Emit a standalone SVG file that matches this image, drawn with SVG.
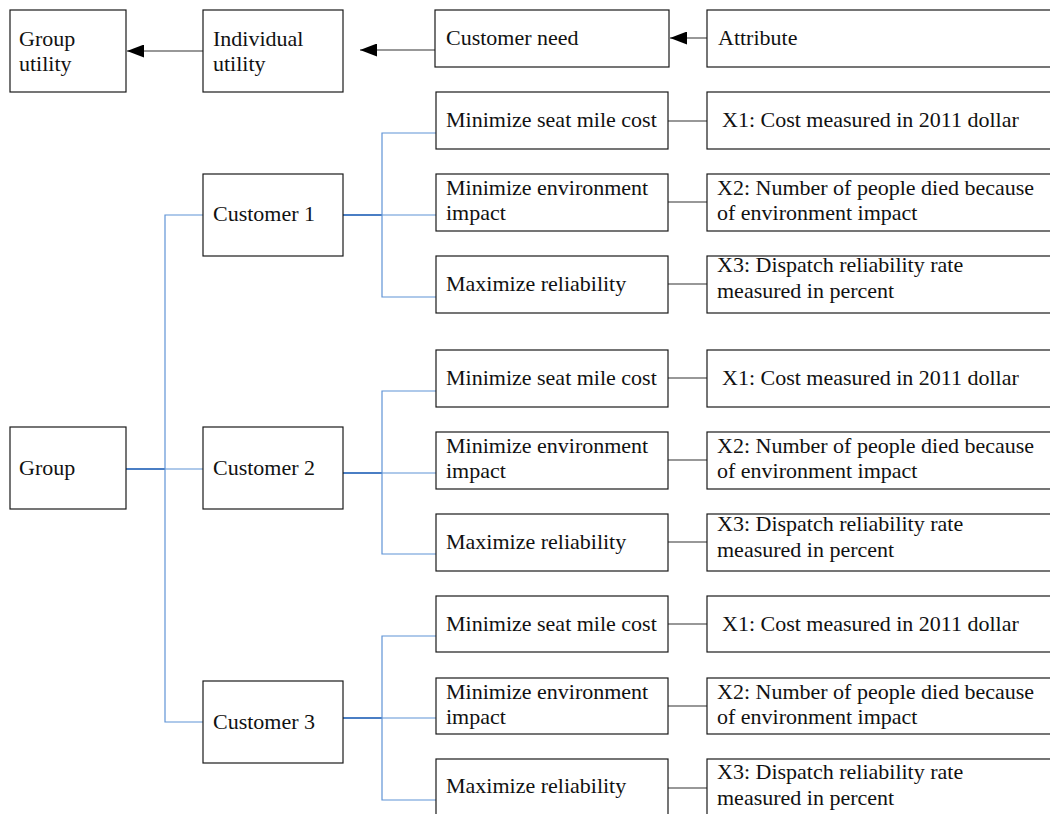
<svg xmlns="http://www.w3.org/2000/svg" width="1050" height="814" viewBox="0 0 1050 814">
<defs>
<style>
.box{fill:#fff;stroke:#1a1a1a;stroke-width:1.2}
.t{font-family:"Liberation Serif","Times New Roman",serif;font-size:22px;fill:#111}
.blk{stroke:#333;stroke-width:1.2;fill:none}
.bl{stroke:#5f93d6;stroke-width:1.2;fill:none}
.blt{stroke:#4a7ec4;stroke-width:2;fill:none}
</style>
<marker id="ah" viewBox="0 0 17 13" refX="17" refY="6.5" markerWidth="17" markerHeight="13" markerUnits="userSpaceOnUse" orient="auto">
<path d="M0,0 L17,6.5 L0,13 Z" fill="#000"/>
</marker>
</defs>
<rect width="1050" height="814" fill="#fff"/>
<g id="connectors">
<line class="blk" x1="203" y1="51" x2="127" y2="51" marker-end="url(#ah)"/>
<line class="blk" x1="435" y1="50" x2="360" y2="50" marker-end="url(#ah)"/>
<line class="blk" x1="707" y1="38" x2="670" y2="38" marker-end="url(#ah)"/>
<line class="blt" x1="126" y1="469" x2="165" y2="469"/>
<polyline class="bl" points="203,215 165,215 165,722 203,722"/>
<line class="bl" x1="165" y1="469" x2="203" y2="469"/>
<line class="blt" x1="343" y1="215" x2="382" y2="215"/>
<polyline class="bl" points="444,133 382,133 382,297 444,297"/>
<line class="bl" x1="382" y1="215" x2="444" y2="215"/>
<line class="blt" x1="343" y1="473" x2="382" y2="473"/>
<polyline class="bl" points="444,391 382,391 382,554 444,554"/>
<line class="bl" x1="382" y1="473" x2="444" y2="473"/>
<line class="blt" x1="343" y1="718" x2="382" y2="718"/>
<polyline class="bl" points="444,636 382,636 382,800 444,800"/>
<line class="bl" x1="382" y1="718" x2="444" y2="718"/>
<line class="blk" x1="668" y1="121" x2="707" y2="121"/>
<line class="blk" x1="668" y1="202" x2="707" y2="202"/>
<line class="blk" x1="668" y1="284" x2="707" y2="284"/>
<line class="blk" x1="668" y1="378" x2="707" y2="378"/>
<line class="blk" x1="668" y1="460" x2="707" y2="460"/>
<line class="blk" x1="668" y1="542" x2="707" y2="542"/>
<line class="blk" x1="668" y1="624" x2="707" y2="624"/>
<line class="blk" x1="668" y1="706" x2="707" y2="706"/>
<line class="blk" x1="668" y1="788" x2="707" y2="788"/>
</g>
<g id="group-utility"><rect class="box" x="10" y="10" width="116" height="82"/><text class="t" x="19" y="46">Group</text><text class="t" x="19" y="71">utility</text></g>
<g id="individual-utility"><rect class="box" x="203" y="10" width="140" height="82"/><text class="t" x="213" y="46">Individual</text><text class="t" x="213" y="71">utility</text></g>
<g id="customer-need"><rect class="box" x="435" y="10" width="234" height="57"/><text class="t" x="446" y="45">Customer need</text></g>
<g id="attribute"><rect class="box" x="707" y="10" width="350" height="57"/><text class="t" x="718" y="45">Attribute</text></g>
<g id="group"><rect class="box" x="10" y="427" width="116" height="82"/><text class="t" x="19" y="475">Group</text></g>
<g id="customer1"><rect class="box" x="203" y="174" width="140" height="82"/><text class="t" x="213" y="221">Customer 1</text></g>
<g id="customer2"><rect class="box" x="203" y="427" width="140" height="82"/><text class="t" x="213" y="475">Customer 2</text></g>
<g id="customer3"><rect class="box" x="203" y="681" width="140" height="82"/><text class="t" x="213" y="729">Customer 3</text></g>
<g id="c1-cost"><rect class="box" x="436" y="92" width="232" height="57"/><text class="t" x="446" y="127">Minimize seat mile cost</text></g>
<g id="c1-env"><rect class="box" x="436" y="174" width="232" height="57"/><text class="t" x="446" y="195">Minimize environment</text><text class="t" x="446" y="220">impact</text></g>
<g id="c1-rel"><rect class="box" x="436" y="256" width="232" height="57"/><text class="t" x="446" y="291">Maximize reliability</text></g>
<g id="c1-x1"><rect class="box" x="707" y="92" width="350" height="57"/><text class="t" x="722" y="127">X1: Cost measured in 2011 dollar</text></g>
<g id="c1-x2"><rect class="box" x="707" y="174" width="350" height="57"/><text class="t" x="717" y="195">X2: Number of people died because</text><text class="t" x="717" y="220">of environment impact</text></g>
<g id="c1-x3"><rect class="box" x="707" y="256" width="350" height="57"/><text class="t" x="717" y="272">X3: Dispatch reliability rate</text><text class="t" x="717" y="298">measured in percent</text></g>
<g id="c2-cost"><rect class="box" x="436" y="350" width="232" height="57"/><text class="t" x="446" y="385">Minimize seat mile cost</text></g>
<g id="c2-env"><rect class="box" x="436" y="432" width="232" height="57"/><text class="t" x="446" y="453">Minimize environment</text><text class="t" x="446" y="478">impact</text></g>
<g id="c2-rel"><rect class="box" x="436" y="514" width="232" height="57"/><text class="t" x="446" y="549">Maximize reliability</text></g>
<g id="c2-x1"><rect class="box" x="707" y="350" width="350" height="57"/><text class="t" x="722" y="385">X1: Cost measured in 2011 dollar</text></g>
<g id="c2-x2"><rect class="box" x="707" y="432" width="350" height="57"/><text class="t" x="717" y="453">X2: Number of people died because</text><text class="t" x="717" y="478">of environment impact</text></g>
<g id="c2-x3"><rect class="box" x="707" y="514" width="350" height="57"/><text class="t" x="717" y="531">X3: Dispatch reliability rate</text><text class="t" x="717" y="557">measured in percent</text></g>
<g id="c3-cost"><rect class="box" x="436" y="596" width="232" height="56"/><text class="t" x="446" y="631">Minimize seat mile cost</text></g>
<g id="c3-env"><rect class="box" x="436" y="678" width="232" height="56"/><text class="t" x="446" y="699">Minimize environment</text><text class="t" x="446" y="724">impact</text></g>
<g id="c3-rel"><rect class="box" x="436" y="759" width="232" height="60"/><text class="t" x="446" y="793">Maximize reliability</text></g>
<g id="c3-x1"><rect class="box" x="707" y="596" width="350" height="56"/><text class="t" x="722" y="631">X1: Cost measured in 2011 dollar</text></g>
<g id="c3-x2"><rect class="box" x="707" y="678" width="350" height="56"/><text class="t" x="717" y="699">X2: Number of people died because</text><text class="t" x="717" y="724">of environment impact</text></g>
<g id="c3-x3"><rect class="box" x="707" y="759" width="350" height="60"/><text class="t" x="717" y="779">X3: Dispatch reliability rate</text><text class="t" x="717" y="805">measured in percent</text></g>
</svg>
